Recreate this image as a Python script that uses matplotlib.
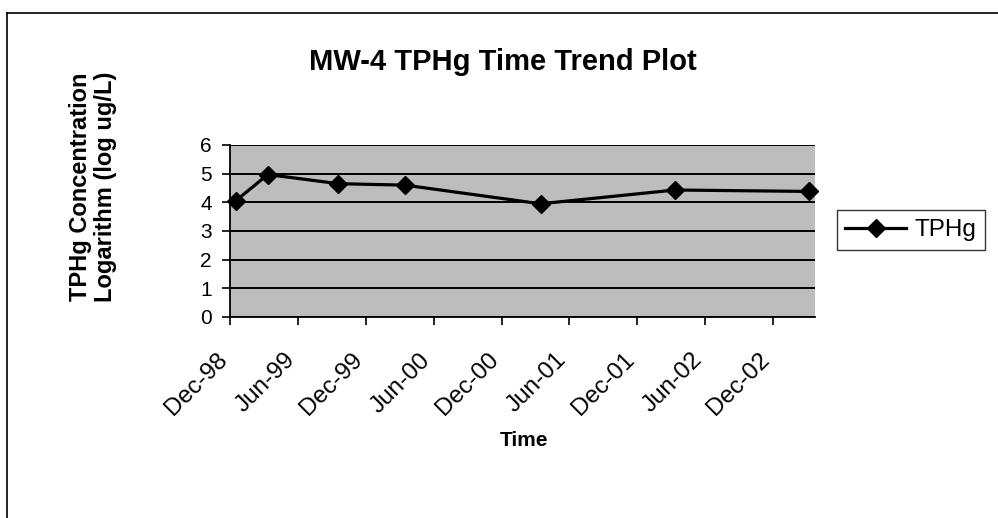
import matplotlib
matplotlib.use("Agg")
import matplotlib.pyplot as plt
import matplotlib.dates as mdates
import matplotlib.transforms as mtrans
from matplotlib.lines import Line2D
import datetime as dt

plt.rcParams['font.family'] = ['Liberation Sans', 'DejaVu Sans']

# Data
sample_dates = ["1998-12-16", "1999-03-13", "1999-09-19", "2000-03-16",
                "2001-03-16", "2002-03-13", "2003-03-10"]
tphg_log = [4.05, 4.97, 4.65, 4.60, 3.95, 4.43, 4.38]
tick_dates = ["1998-12-01", "1999-06-01", "1999-12-01", "2000-06-01", "2000-12-01",
              "2001-06-01", "2001-12-01", "2002-06-01", "2002-12-01"]
y_ticks = [0, 1, 2, 3, 4, 5, 6]
x_range = ["1998-12-01", "2003-03-25"]

to_dt = lambda s: dt.datetime.strptime(s, "%Y-%m-%d")
xd = [to_dt(s) for s in sample_dates]
tk = [to_dt(s) for s in tick_dates]

W, H = 998, 518
fig = plt.figure(figsize=(W / 100, H / 100), dpi=100)
fig.patch.set_facecolor('white')

left, right, top, bottom = 230, 815, 145, 317
ax = fig.add_axes([left / W, 1 - bottom / H, (right - left) / W, (bottom - top) / H])
ax.set_facecolor('#bdbdbd')

ax.plot(xd, tphg_log, color='black', lw=2.3, marker='D', markersize=9.5,
        markerfacecolor='black', markeredgecolor='black', zorder=5, clip_on=False,
        label='TPHg')

ax.set_ylim(0, 6)
ax.set_yticks(y_ticks)
ax.set_xlim(to_dt(x_range[0]), to_dt(x_range[1]))
ax.set_xticks(tk)
ax.xaxis.set_major_formatter(mdates.DateFormatter('%b-%y'))

ax.yaxis.grid(True, color='black', lw=1.4)
ax.set_axisbelow(True)
for s in ['top', 'right']:
    ax.spines[s].set_visible(False)
for s in ['left', 'bottom']:
    ax.spines[s].set_color('black')
    ax.spines[s].set_linewidth(1.3)

ax.tick_params(axis='y', direction='out', length=6, width=1.2, labelsize=15, pad=7)
ax.tick_params(axis='x', direction='out', length=6, width=1.2, labelsize=17.5, pad=17)
shift = mtrans.ScaledTranslation(-14 / 100, 0, fig.dpi_scale_trans)
for lbl in ax.get_xticklabels():
    lbl.set_rotation(45)
    lbl.set_ha('right')
    lbl.set_rotation_mode('anchor')
    lbl.set_transform(lbl.get_transform() + shift)

fig.text(503 / W, 1 - 70 / H, 'MW-4 TPHg Time Trend Plot', ha='center', va='baseline',
         fontsize=21, fontweight='bold')
fig.text(93 / W, 1 - 187 / H, 'TPHg Concentration\nLogarithm (log ug/L)', ha='center',
         va='center', rotation=90, fontsize=17, fontweight='bold', linespacing=1.1)
fig.text(524 / W, 1 - 440 / H, 'Time', ha='center', va='center', fontsize=15,
         fontweight='bold')

leg = fig.legend(handles=[Line2D([0], [0], color='black', lw=2.3, marker='D', markersize=9.5)],
                 labels=['TPHg'], loc='center', bbox_to_anchor=(911 / W, 1 - 230 / H),
                 frameon=True, fancybox=False, fontsize=17.5, handlelength=2.5,
                 borderpad=0.35, handletextpad=0.35, borderaxespad=0)
leg.get_frame().set_edgecolor('black')
leg.get_frame().set_linewidth(1.0)

# chart border (left and top edges visible)
fig.add_artist(Line2D([7 / W, 7 / W], [1 - 13 / H, 0], color='black', lw=1.2,
                      transform=fig.transFigure))
fig.add_artist(Line2D([7 / W, 1], [1 - 13 / H, 1 - 13 / H], color='black', lw=1.2,
                      transform=fig.transFigure))

fig.savefig('out.png', dpi=100)
